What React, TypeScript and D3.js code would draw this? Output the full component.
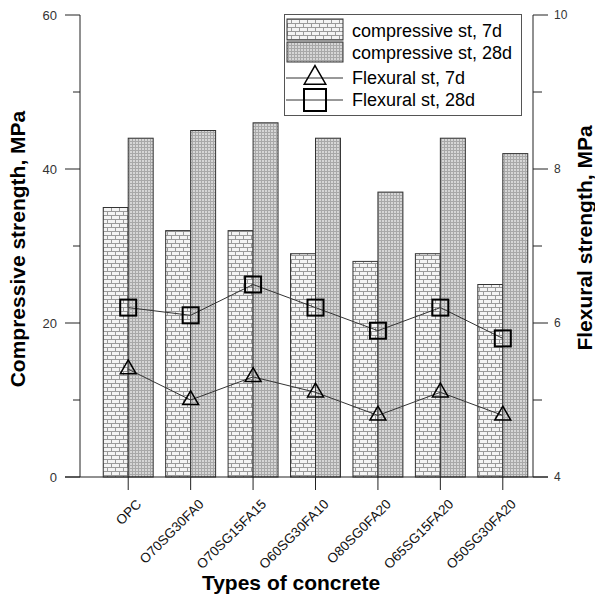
import { useEffect, useRef } from 'react'
import * as d3 from 'd3'

const categories = ['OPC', 'O70SG30FA0', 'O70SG15FA15', 'O60SG30FA10', 'O80SG0FA20', 'O65SG15FA20', 'O50SG30FA20']
const comp7 = [35, 32, 32, 29, 28, 29, 25]
const comp28 = [44, 45, 46, 44, 37, 44, 42]
const flex7 = [5.4, 5.0, 5.3, 5.1, 4.8, 5.1, 4.8]
const flex28 = [6.2, 6.1, 6.5, 6.2, 5.9, 6.2, 5.8]
const leftTicks = [0, 20, 40, 60]
const leftMinor = [10, 30, 50]
const rightTicks = [4, 6, 8, 10]
const rightMinor = [5, 7, 9]
const legendLabels = ['compressive st, 7d', 'compressive st, 28d', 'Flexural st, 7d', 'Flexural st, 28d']

const FONT = 'Arial, "Liberation Sans", sans-serif'
const W = 595
const H = 602

export default function App() {
  const svgRef = useRef<SVGSVGElement>(null)

  useEffect(() => {
    const el = svgRef.current
    if (!el) return
    const svg = d3.select(el)
    svg.selectAll('*').remove()

    const left = 80
    const right = 533
    const top = 15
    const bottom = 477

    const x = d3.scaleBand().domain(categories).range([97, 534]).paddingInner(0.2).paddingOuter(0.1)
    const yL = d3.scaleLinear().domain([0, 60]).range([bottom, top])
    const yR = d3.scaleLinear().domain([4, 10]).range([bottom, top])
    const cx = (c: string) => (x(c) as number) + x.bandwidth() / 2
    const bw = x.bandwidth() / 2

    // patterns
    const defs = svg.append('defs')
    const brick = defs
      .append('pattern')
      .attr('id', 'brick')
      .attr('patternUnits', 'userSpaceOnUse')
      .attr('width', 8)
      .attr('height', 8)
    brick.append('rect').attr('width', 8).attr('height', 8).attr('fill', '#9a9a9a')
    brick.append('rect').attr('x', 0).attr('y', 0).attr('width', 7).attr('height', 3).attr('fill', '#f4f4f4')
    brick.append('rect').attr('x', 4).attr('y', 4).attr('width', 4).attr('height', 3).attr('fill', '#f4f4f4')
    brick.append('rect').attr('x', 0).attr('y', 4).attr('width', 3).attr('height', 3).attr('fill', '#f4f4f4')

    const dots = defs
      .append('pattern')
      .attr('id', 'dots')
      .attr('patternUnits', 'userSpaceOnUse')
      .attr('width', 3)
      .attr('height', 3)
    dots.append('rect').attr('width', 3).attr('height', 3).attr('fill', '#a8a8a8')
    dots.append('rect').attr('x', 1).attr('y', 1).attr('width', 2).attr('height', 2).attr('fill', '#d6d6d6')

    // bars
    const g = svg.append('g')
    g.selectAll('rect.c7')
      .data(categories)
      .join('rect')
      .attr('x', (c) => cx(c) - bw)
      .attr('y', (_, i) => yL(comp7[i]))
      .attr('width', bw)
      .attr('height', (_, i) => bottom - yL(comp7[i]))
      .attr('fill', 'url(#brick)')
      .attr('stroke', '#333')
      .attr('stroke-width', 1)
    g.selectAll('rect.c28')
      .data(categories)
      .join('rect')
      .attr('x', (c) => cx(c))
      .attr('y', (_, i) => yL(comp28[i]))
      .attr('width', bw)
      .attr('height', (_, i) => bottom - yL(comp28[i]))
      .attr('fill', 'url(#dots)')
      .attr('stroke', '#333')
      .attr('stroke-width', 1)

    // axes lines
    const axisColor = '#222'
    svg.append('line').attr('x1', left).attr('x2', left).attr('y1', top).attr('y2', bottom).attr('stroke', axisColor)
    svg.append('line').attr('x1', right).attr('x2', right).attr('y1', top).attr('y2', bottom).attr('stroke', axisColor)
    svg.append('line').attr('x1', 65).attr('x2', 548).attr('y1', bottom).attr('y2', bottom).attr('stroke', axisColor)

    leftTicks.forEach((t) => {
      svg.append('line').attr('x1', 65).attr('x2', left).attr('y1', yL(t)).attr('y2', yL(t)).attr('stroke', axisColor)
      svg.append('text').attr('x', 57).attr('y', yL(t)).attr('dy', '0.35em')
        .attr('text-anchor', 'end').attr('font-family', FONT).attr('font-size', 13).attr('fill', '#333').text(t)
    })
    leftMinor.forEach((t) => {
      svg.append('line').attr('x1', 73).attr('x2', left).attr('y1', yL(t)).attr('y2', yL(t)).attr('stroke', axisColor)
    })
    rightTicks.forEach((t) => {
      svg.append('line').attr('x1', right).attr('x2', 548).attr('y1', yR(t)).attr('y2', yR(t)).attr('stroke', axisColor)
      svg.append('text').attr('x', 554).attr('y', yR(t)).attr('dy', '0.35em')
        .attr('text-anchor', 'start').attr('font-family', FONT).attr('font-size', 12).attr('fill', '#333').text(t)
    })
    rightMinor.forEach((t) => {
      svg.append('line').attr('x1', right).attr('x2', 542).attr('y1', yR(t)).attr('y2', yR(t)).attr('stroke', axisColor)
    })

    // category ticks and labels
    categories.forEach((c) => {
      svg.append('line').attr('x1', cx(c)).attr('x2', cx(c)).attr('y1', bottom).attr('y2', 490).attr('stroke', axisColor)
      svg.append('text')
        .attr('transform', `translate(${cx(c) + 14},${505}) rotate(-45)`)
        .attr('text-anchor', 'end')
        .attr('font-family', FONT)
        .attr('font-size', 13.5)
        .attr('fill', '#111')
        .text(c)
    })

    // flexural lines
    const line = d3.line<number>().x((_, i) => cx(categories[i])).y((d) => yR(d))
    svg.append('path').datum(flex7).attr('d', line).attr('fill', 'none').attr('stroke', '#333').attr('stroke-width', 1)
    svg.append('path').datum(flex28).attr('d', line).attr('fill', 'none').attr('stroke', '#333').attr('stroke-width', 1)

    const tri = d3.symbol().type(d3.symbolTriangle).size(110)
    const sq = 16
    svg.selectAll('path.tri')
      .data(flex7)
      .join('path')
      .attr('transform', (d, i) => `translate(${cx(categories[i])},${yR(d)})`)
      .attr('d', tri)
      .attr('fill', 'none')
      .attr('stroke', '#000')
      .attr('stroke-width', 1.5)
    svg.selectAll('rect.sq')
      .data(flex28)
      .join('rect')
      .attr('x', (_, i) => cx(categories[i]) - sq / 2)
      .attr('y', (d) => yR(d) - sq / 2)
      .attr('width', sq)
      .attr('height', sq)
      .attr('fill', 'none')
      .attr('stroke', '#000')
      .attr('stroke-width', 2)

    // axis titles
    svg.append('text')
      .attr('transform', `translate(25,249) rotate(-90)`)
      .attr('text-anchor', 'middle').attr('font-family', FONT).attr('font-size', 21).attr('font-weight', 'bold')
      .text('Compressive strength, MPa')
    svg.append('text')
      .attr('transform', `translate(592,238) rotate(-90)`)
      .attr('text-anchor', 'middle').attr('font-family', FONT).attr('font-size', 21).attr('font-weight', 'bold')
      .text('Flexural strength, MPa')
    svg.append('text')
      .attr('x', 291).attr('y', 590)
      .attr('text-anchor', 'middle').attr('font-family', FONT).attr('font-size', 21).attr('font-weight', 'bold')
      .text('Types of concrete')

    // legend
    const lg = svg.append('g')
    lg.append('rect').attr('x', 284.5).attr('y', 14.5).attr('width', 237).attr('height', 101)
      .attr('fill', '#fff').attr('stroke', '#555')
    const rowY = [31, 53, 78, 100]
    lg.append('rect').attr('x', 287).attr('y', 19).attr('width', 56).attr('height', 21)
      .attr('fill', 'url(#brick)').attr('stroke', '#333')
    lg.append('rect').attr('x', 287).attr('y', 42).attr('width', 56).attr('height', 20)
      .attr('fill', 'url(#dots)').attr('stroke', '#333')
    lg.append('line').attr('x1', 286).attr('x2', 343).attr('y1', rowY[2]).attr('y2', rowY[2]).attr('stroke', '#333')
    lg.append('line').attr('x1', 286).attr('x2', 343).attr('y1', rowY[3]).attr('y2', rowY[3]).attr('stroke', '#333')
    lg.append('path').attr('transform', `translate(315,${rowY[2]})`)
      .attr('d', d3.symbol().type(d3.symbolTriangle).size(200)()).attr('fill', 'none').attr('stroke', '#000').attr('stroke-width', 1.5)
    lg.append('rect').attr('x', 315 - 11).attr('y', rowY[3] - 11).attr('width', 22).attr('height', 22)
      .attr('fill', 'none').attr('stroke', '#000').attr('stroke-width', 2)
    legendLabels.forEach((t, i) => {
      lg.append('text').attr('x', 352).attr('y', rowY[i]).attr('dy', '0.35em')
        .attr('font-family', FONT).attr('font-size', 18).attr('fill', '#000').text(t)
    })
  }, [])

  return <svg ref={svgRef} width={W} height={H} style={{ display: 'block', position: 'absolute', left: 0, top: 0, background: '#fff' }} />
}
